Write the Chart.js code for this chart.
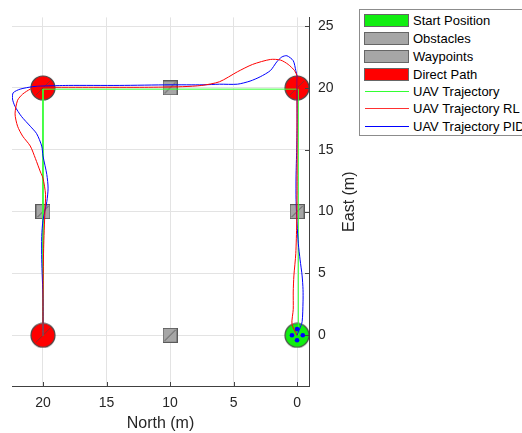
<!DOCTYPE html>
<html>
<head>
<meta charset="utf-8">
<script src="https://cdn.jsdelivr.net/npm/chart.js@4.4.1/dist/chart.umd.min.js"></script>
<style>
  html, body { margin: 0; padding: 0; background: #fff; overflow: hidden; width: 522px; height: 433px; }
  #wrap { position: relative; width: 522px; height: 433px; overflow: hidden; }
  canvas { position: absolute; left: 0; top: 0; }
  #legend { position: absolute; left: 359px; top: 9px; width: 190px; height: 125px; border: 1px solid #8c8c8c; background: #fff;
            font-family: "Liberation Sans", Arial, Helvetica, sans-serif; font-size: 13px; color: #000; }
  .row { position: absolute; left: 0; height: 16px; line-height: 16px; white-space: nowrap; }
  .sw { position: absolute; left: 4px; width: 43px; height: 11px; border: 1px solid #666; }
  .ln { position: absolute; left: 5px; width: 44px; height: 0; border-top: 1px solid; }
  .tx { position: absolute; left: 53px; top: 0; }
</style>
</head>
<body>
<div id="wrap">
  <canvas id="c" width="522" height="433"></canvas>
  <div id="legend"></div>
</div>
<script>
// ---- data ----
const xTicks = [0, 5, 10, 15, 20];
const yTicks = [0, 5, 10, 15, 20, 25];

const startPosition = [{x: 0, y: 0}];
const obstacles = [{x: 10, y: 20}, {x: 20, y: 10}, {x: 0, y: 10}, {x: 10, y: 0}];
const waypoints = [{x: 20, y: 0}, {x: 20, y: 20}, {x: 0, y: 20}];
const directPath = [{x: 20, y: 0}, {x: 20, y: 20}, {x: 0, y: 20}];
const pidMarkers = [{x: 0.4, y: 0}, {x: 0, y: 0.5}, {x: -0.45, y: 0}, {x: 0, y: -0.4}];

const uavTrajectory = [{x: -0.1, y: 0}, {x: -0.1, y: 19.9}, {x: 20, y: 19.9}, {x: 20, y: 0}];

const uavTrajectoryRL = [
  {x: 0, y: 0}, {x: 0.4, y: 0.9}, {x: 0.3, y: 2.1}, {x: 0.3, y: 3.5}, {x: 0.25, y: 4.8}, {x: 0.1, y: 6.6},
  {x: 0.03, y: 9}, {x: 0, y: 12}, {x: 0, y: 16}, {x: 0, y: 19}, {x: 0, y: 20.9}, {x: 0.2, y: 21.4},
  {x: 0.7, y: 21.9}, {x: 1.3, y: 22.25}, {x: 2.1, y: 22.3}, {x: 3.5, y: 21.9}, {x: 4.7, y: 21.3},
  {x: 6.1, y: 20.5}, {x: 7.5, y: 20.2}, {x: 9, y: 20.1}, {x: 12, y: 20.05}, {x: 16, y: 20.05},
  {x: 20, y: 20.05}, {x: 20.5, y: 20.05}, {x: 21.0, y: 19.9}, {x: 21.6, y: 19.5}, {x: 22.0, y: 19.0},
  {x: 22.2, y: 17.9}, {x: 22.0, y: 16.9}, {x: 21.6, y: 16.1}, {x: 21.0, y: 15.3}, {x: 20.6, y: 14.3},
  {x: 20.2, y: 13.2}, {x: 20.0, y: 12.7}, {x: 19.8, y: 11.4}, {x: 19.85, y: 10}, {x: 19.95, y: 7},
  {x: 20, y: 3}, {x: 20, y: 0}
];

const uavTrajectoryPID = [
  {x: 0, y: 0}, {x: -0.2, y: 0.5}, {x: -0.4, y: 1.1}, {x: -0.47, y: 2.7}, {x: -0.47, y: 3.7},
  {x: -0.4, y: 4.8}, {x: -0.24, y: 6.1}, {x: -0.1, y: 7.4}, {x: 0, y: 9}, {x: 0.08, y: 11},
  {x: 0.08, y: 12.8}, {x: 0.03, y: 15}, {x: 0, y: 17}, {x: 0, y: 19}, {x: 0, y: 20.9}, {x: 0.1, y: 21.4},
  {x: 0.3, y: 22.2}, {x: 0.8, y: 22.6}, {x: 1.2, y: 22.5}, {x: 1.6, y: 22.1}, {x: 2.1, y: 21.4},
  {x: 2.9, y: 20.9}, {x: 3.7, y: 20.55}, {x: 4.7, y: 20.3}, {x: 6.1, y: 20.3}, {x: 7.4, y: 20.25},
  {x: 10, y: 20.25}, {x: 14, y: 20.2}, {x: 18, y: 20.2}, {x: 20, y: 20.15}, {x: 20.8, y: 20.1},
  {x: 21.8, y: 19.9}, {x: 22.35, y: 19.6}, {x: 22.4, y: 19.1}, {x: 22.2, y: 18.5}, {x: 21.7, y: 17.7},
  {x: 21.0, y: 16.9}, {x: 20.5, y: 16.3}, {x: 20.1, y: 15.3}, {x: 20, y: 14.5}, {x: 19.7, y: 13},
  {x: 19.6, y: 11.9}, {x: 19.7, y: 10.8}, {x: 20, y: 9.3}, {x: 20.1, y: 8}, {x: 20.1, y: 6.1},
  {x: 20, y: 3}, {x: 20, y: 0}
];

const legendItems = [
  {label: 'Start Position', type: 'patch', color: '#11ee11'},
  {label: 'Obstacles', type: 'patch', color: '#a6a6a6'},
  {label: 'Waypoints', type: 'patch', color: '#a6a6a6'},
  {label: 'Direct Path', type: 'patch', color: '#ff0000'},
  {label: 'UAV Trajectory', type: 'line', color: '#33ff33'},
  {label: 'UAV Trajectory RL', type: 'line', color: '#ff3030'},
  {label: 'UAV Trajectory PID', type: 'line', color: '#0000ff'}
];

const xTitle = 'North (m)';
const yTitle = 'East (m)';

// ---- marker images ----
function squareImg(fill) {
  const c = document.createElement('canvas'); c.width = 15; c.height = 15;
  const g = c.getContext('2d');
  g.fillStyle = fill; g.fillRect(0.5, 0.5, 14, 14);
  g.strokeStyle = '#5a5a5a'; g.lineWidth = 1; g.strokeRect(0.5, 0.5, 14, 14);
  g.beginPath(); g.moveTo(2, 13); g.lineTo(13, 2); g.stroke();
  return c;
}
function circleImg(fill, diag) {
  const c = document.createElement('canvas'); c.width = 26; c.height = 26;
  const g = c.getContext('2d');
  g.beginPath(); g.arc(13, 13, 12, 0, Math.PI * 2);
  g.fillStyle = fill; g.fill();
  if (diag) {
    g.save(); g.clip();
    g.strokeStyle = 'rgba(70,70,70,0.6)'; g.lineWidth = 1;
    g.beginPath(); g.moveTo(6, 20); g.lineTo(20, 6); g.stroke();
    g.restore();
  }
  g.beginPath(); g.arc(13, 13, 12, 0, Math.PI * 2);
  g.strokeStyle = '#4a4a4a'; g.lineWidth = 1.2; g.stroke();
  return c;
}
const obstacleImg = squareImg('#a6a6a6');
const waypointImg = squareImg('#a6a6a6');
const redImg = circleImg('#ff0000', true);
const greenImg = circleImg('#11ee11', false);

// ---- legend ----
const leg = document.getElementById('legend');
const rowCenters = [11, 29, 47, 65, 82, 99, 117];
legendItems.forEach((it, i) => {
  const r = document.createElement('div'); r.className = 'row';
  r.style.top = (rowCenters[i] - 8) + 'px'; r.style.width = '190px';
  if (it.type === 'patch') {
    const s = document.createElement('div'); s.className = 'sw';
    s.style.background = it.color; s.style.top = '1px'; r.appendChild(s);
  } else {
    const l = document.createElement('div'); l.className = 'ln';
    l.style.borderTopColor = it.color; l.style.top = '7px'; r.appendChild(l);
  }
  const t = document.createElement('div'); t.className = 'tx'; t.textContent = it.label; r.appendChild(t);
  leg.appendChild(r);
});

const FONT = '"Liberation Sans", Arial, Helvetica, sans-serif';

// ---- inner ticks + rotated right-axis title ----
const innerTicks = {
  id: 'innerTicks',
  afterDraw(chart) {
    const g = chart.ctx, a = chart.chartArea;
    const xs = chart.scales.x, ys = chart.scales.y;
    g.save(); g.strokeStyle = '#444'; g.lineWidth = 1;
    xTicks.forEach(v => { const p = Math.round(xs.getPixelForValue(v)) + 0.5;
      g.beginPath(); g.moveTo(p, a.bottom); g.lineTo(p, a.bottom - 4); g.stroke(); });
    yTicks.forEach(v => { const p = Math.round(ys.getPixelForValue(v)) + 0.5;
      g.beginPath(); g.moveTo(a.right, p); g.lineTo(a.right - 4, p); g.stroke(); });
    g.translate(ys.left + 41, (a.top + a.bottom) / 2);
    g.rotate(-Math.PI / 2);
    g.fillStyle = '#262626'; g.font = '16px ' + FONT;
    g.textAlign = 'center'; g.textBaseline = 'middle';
    g.fillText(yTitle, 0, 0);
    g.restore();
  }
};

const lineDs = (label, data, color, order, tension) => ({
  label, data, showLine: true, borderColor: color, borderWidth: 1, pointRadius: 0,
  tension, fill: false, order
});

new Chart(document.getElementById('c'), {
  type: 'scatter',
  data: {
    datasets: [
      {label: 'pidMarkers', data: pidMarkers, pointRadius: 2.3, pointBackgroundColor: '#0000ff', pointBorderWidth: 0, order: 0},
      lineDs('UAV Trajectory RL', uavTrajectoryRL, '#ff0000', 1, 0.25),
      lineDs('UAV Trajectory PID', uavTrajectoryPID, '#0000ff', 2, 0.25),
      lineDs('UAV Trajectory', uavTrajectory, '#33ff33', 3, 0),
      {label: 'Start Position', data: startPosition, pointStyle: greenImg, order: 4},
      {label: 'Direct Path', data: directPath, pointStyle: redImg, order: 5},
      {label: 'Obstacles', data: obstacles, pointStyle: obstacleImg, order: 6},
      {label: 'Waypoints', data: waypoints, pointStyle: waypointImg, order: 7}
    ]
  },
  options: {
    responsive: false, animation: false, devicePixelRatio: 1,
    layout: {padding: {left: 12, top: 9, right: 163, bottom: 0}},
    plugins: {legend: {display: false}, tooltip: {enabled: false}},
    scales: {
      x: {
        type: 'linear', position: 'bottom', reverse: true, min: -0.94, max: 22.44,
        afterBuildTicks: s => { s.ticks = xTicks.map(v => ({value: v})); },
        afterFit: s => { s.height = 47; },
        grid: {color: '#e3e3e3', drawTicks: false},
        border: {color: '#404040', width: 1},
        ticks: {font: {family: FONT, size: 14}, color: '#262626', padding: 9, maxRotation: 0},
        title: {display: true, text: xTitle, font: {family: FONT, size: 16}, color: '#262626', padding: {top: 2, bottom: 0}}
      },
      y: {
        type: 'linear', position: 'right', min: -4.1, max: 25.7,
        afterBuildTicks: s => { s.ticks = yTicks.map(v => ({value: v})); },
        afterFit: s => { s.width = 50; },
        grid: {color: '#e3e3e3', drawTicks: false},
        border: {color: '#404040', width: 1},
        ticks: {font: {family: FONT, size: 14}, color: '#262626', padding: 9},
        title: {display: false}
      }
    }
  },
  plugins: [innerTicks]
});
</script>
</body>
</html>
